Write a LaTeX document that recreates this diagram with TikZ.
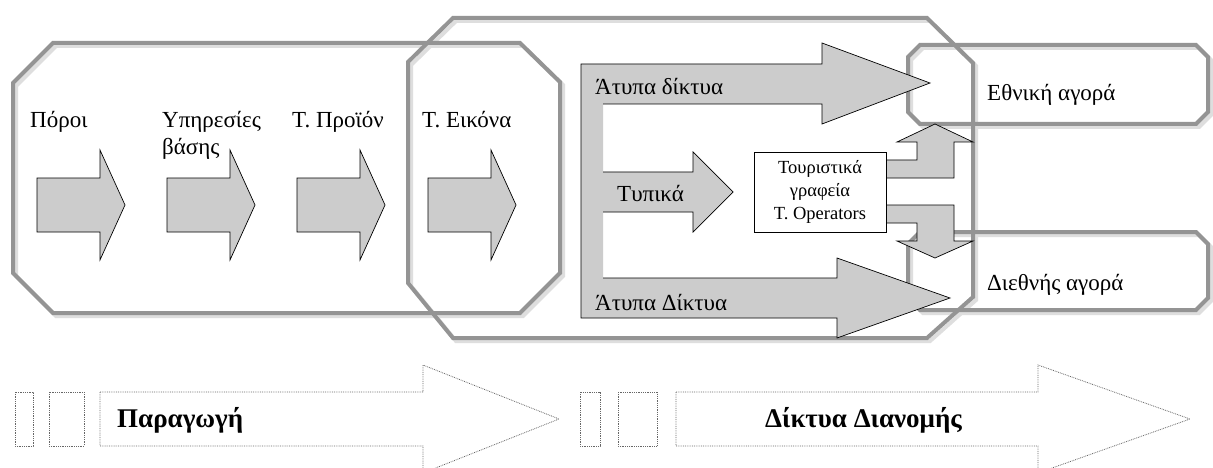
\documentclass[tikz,border=0pt]{standalone}
\usepackage{fontspec}
\setmainfont{Liberation Serif}
\begin{document}
\begin{tikzpicture}[x=1pt,y=-1pt,
  oct/.style={line width=4pt, draw=black!42, line join=miter},
  octsh/.style={line width=4pt, draw=black!13, line join=miter, shift={(3,3)}},
  blk/.style={fill=black!20, draw=black, line width=0.7pt, line join=miter},
  blkfill/.style={fill=black!20},
  blkline/.style={draw=black, line width=0.7pt, line join=miter},
  lbl/.style={anchor=base west, inner sep=0pt, font=\fontsize{23}{27}\selectfont},
  dotbox/.style={draw=black!60, densely dotted, line width=0.8pt},
  blab/.style={anchor=base west, inner sep=0pt, font=\bfseries\fontsize{27}{31}\selectfont}
]
\useasboundingbox (0,0) rectangle (1213,468);
\fill[white] (0,0) rectangle (1213,468);
% shadows of the frames
\draw[octsh] (13,83)--(53,43)--(520,43)--(560,82)--(560,273)--(520,313)--(53,313)--(13,273)--cycle;
\draw[octsh] (408,62)--(453,18)--(927,18)--(973,63)--(973,297)--(927,338)--(453,338)--(408,283)--cycle;
\draw[octsh] (908,57)--(920,45)--(1196,45)--(1208,57)--(1208,112)--(1196,124)--(920,124)--(908,112)--cycle;
\draw[octsh] (908,244)--(920,232)--(1196,232)--(1208,244)--(1208,298)--(1196,310)--(920,310)--(908,298)--cycle;
% frames
\draw[oct] (13,83)--(53,43)--(520,43)--(560,82)--(560,273)--(520,313)--(53,313)--(13,273)--cycle;
\draw[oct] (408,62)--(453,18)--(927,18)--(973,63)--(973,297)--(927,338)--(453,338)--(408,283)--cycle;
\draw[oct] (908,57)--(920,45)--(1196,45)--(1208,57)--(1208,112)--(1196,124)--(920,124)--(908,112)--cycle;
\draw[oct] (908,244)--(920,232)--(1196,232)--(1208,244)--(1208,298)--(1196,310)--(920,310)--(908,298)--cycle;
% block arrows in production
\foreach \x in {37,167,297,428}{
  \draw[blk] (\x,178)--(\x+63,178)--(\x+63,150)--(\x+88,205)--(\x+63,260)--(\x+63,232)--(\x,232)--cycle;
}
% distribution frame (informal networks)
\fill[blkfill] (581,64)--(822,64)--(822,43)--(930,83)--(822,124)--(822,104)--(603,104)--(603,278)--(837,278)--(837,258)--(950,298)--(837,338)--(837,318)--(581,318)--cycle;
\draw[blkline] (603,104)--(822,104)--(822,124)--(930,83)--(822,43)--(822,64)--(581,64)--(581,318)--(837,318)--(837,338)--(950,298)--(837,258)--(837,278)--(603,278);
% formal arrow
\fill[blkfill] (603,172)--(693,172)--(693,152)--(733,192)--(693,232)--(693,212)--(603,212)--cycle;
\draw[blkline] (603,172)--(693,172)--(693,152)--(733,192)--(693,232)--(693,212)--(603,212);
% bent arrows to markets
\draw[blk] (885,160)--(917,160)--(917,142)--(897,142)--(935,124)--(973,142)--(954,142)--(954,178)--(885,178)--cycle;
\draw[blk] (885,205)--(954,205)--(954,241)--(973,241)--(935,258)--(897,241)--(917,241)--(917,223)--(885,223)--cycle;
% tour operators box
\node[draw=black, line width=0.7pt, fill=white, minimum width=132pt, minimum height=80pt, inner sep=0pt,
      align=center, font=\fontsize{18.5}{23}\selectfont] (tour) at (820,192) {Τουριστικά\\γραφεία\\T. Operators};
% labels
\node[lbl] (poroi) at (30,128) {Πόροι};
\node[lbl] (ypir) at (162,128) {Υπηρεσίες};
\node[lbl] (vasis) at (162,155) {βάσης};
\node[lbl] (proion) at (292,128) {Τ. Προϊόν};
\node[lbl] (eikona) at (422,128) {Τ. Εικόνα};
\node[lbl] (atypa1) at (595,95) {Άτυπα δίκτυα};
\node[lbl] (typika) at (617,201) {Τυπικά};
\node[lbl] (atypa2) at (595,310) {Άτυπα Δίκτυα};
\node[lbl] (ethniki) at (987,101) {Εθνική αγορά};
\node[lbl] (diethnis) at (987,290) {Διεθνής αγορά};
% bottom dotted arrows
\draw[dotbox] (15,392) rectangle (33,446);
\draw[dotbox] (49,392) rectangle (84,446);
\draw[dotbox] (100,392)--(423,392)--(423,365)--(559,419)--(423,473)--(423,446)--(100,446)--cycle;
\node[blab] (paragogi) at (117,427) {Παραγωγή};
\draw[dotbox] (580,392) rectangle (600,446);
\draw[dotbox] (618,392) rectangle (657,446);
\draw[dotbox] (676,392)--(1038,392)--(1038,365)--(1190,419)--(1038,473)--(1038,446)--(676,446)--cycle;
\node[blab] (diktya) at (765,427) {Δίκτυα Διανομής};
\end{tikzpicture}
\end{document}
